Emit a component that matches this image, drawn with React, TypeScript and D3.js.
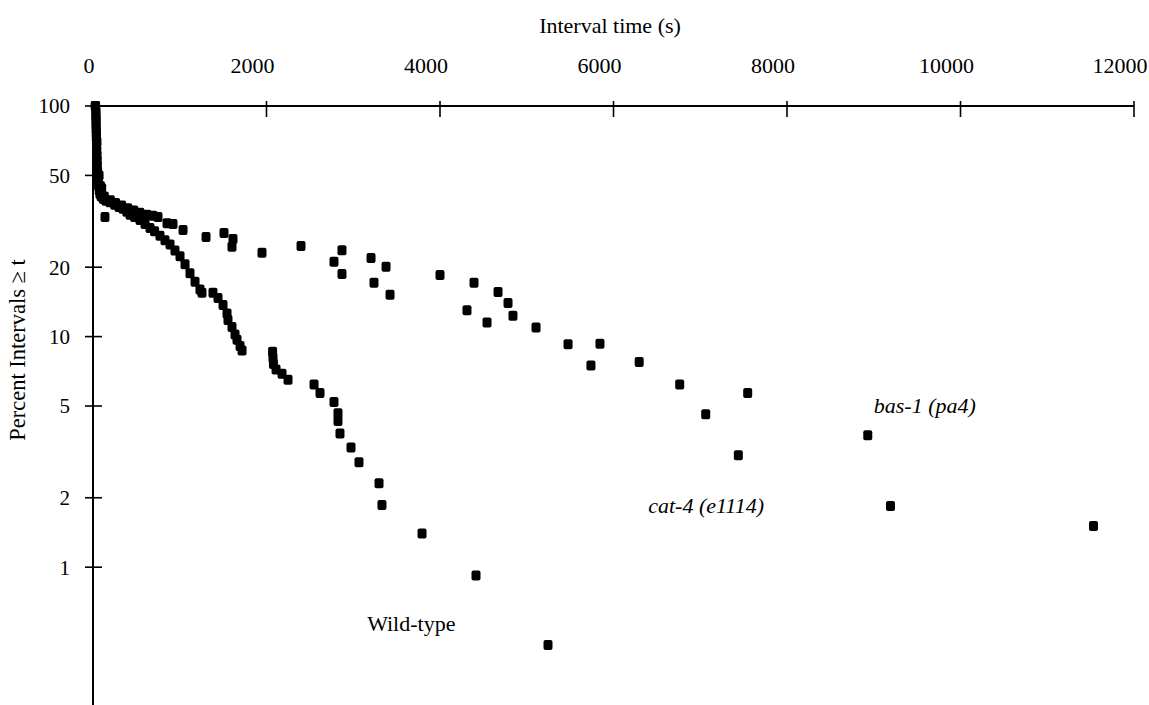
import React from "react";
import * as d3 from "d3";

// Survival curves of interval lengths: [interval time (s), percent of intervals >= t]
const wildType: [number, number][] = [
  [30, 100], [32, 97], [33, 94], [34, 91], [35, 88], [35, 85], [36, 82], [37, 79],
  [38, 76], [39, 73], [40, 70], [42, 67], [44, 64], [46, 61], [48, 58], [50, 55],
  [53, 52], [56, 49], [60, 47], [65, 45], [72, 43], [80, 41.5], [95, 40.5],
  [120, 39.5], [150, 38.8], [196, 38.2], [250, 37.3], [300, 36.5], [346, 35.8],
  [390, 34.8], [427, 33.8], [480, 33], [542, 32], [600, 30.8], [657, 29.6],
  [710, 28.6], [772, 27.4], [830, 26.2], [888, 25.1], [945, 23.6], [1003, 22.3],
  [1061, 20.6], [1118, 18.8], [1176, 17.3], [1233, 16], [1256, 15.5],
  [1383, 15.5], [1441, 14.7], [1499, 13.7], [1545, 12.6], [1556, 11.8],
  [1602, 11], [1637, 10.2], [1660, 9.7], [1695, 9.1], [1718, 8.7],
  [2070, 8.6], [2075, 8.1], [2080, 7.6], [2110, 7.2], [2179, 6.9], [2248, 6.5],
  [2548, 6.2], [2617, 5.7], [2778, 5.2], [2824, 4.65], [2824, 4.3], [2847, 3.8],
  [2974, 3.3], [3066, 2.85], [3297, 2.31], [3331, 1.86], [3793, 1.4],
  [4415, 0.92], [5245, 0.46],
];

const bas1: [number, number][] = [
  [25, 100], [40, 75], [70, 50], [100, 44], [130, 40.5], [200, 39], [260, 38],
  [330, 37], [400, 36], [470, 35.2], [540, 34.4], [620, 33.8], [690, 33.4],
  [749, 33], [922, 30.8], [1510, 28.1], [1614, 26.5], [2398, 24.7],
  [2870, 23.7], [3205, 21.9], [3378, 20.1], [4000, 18.5], [4392, 17.1],
  [4669, 15.6], [4784, 14], [4841, 12.3], [5107, 10.96], [5844, 9.3],
  [6296, 7.75], [6763, 6.2], [7063, 4.61], [7439, 3.06], [11533, 1.51],
];

const cat4: [number, number][] = [
  [28, 100], [45, 70], [85, 45], [138, 33], [853, 31], [1038, 29], [1303, 27],
  [1602, 24.5], [1948, 23.1], [2778, 21.1], [2870, 18.7], [3239, 17.1],
  [3424, 15.2], [4311, 13], [4542, 11.5], [5476, 9.27], [5740, 7.5],
  [7547, 5.7], [8931, 3.73], [9193, 1.84],
];

const xTicks = [0, 2000, 4000, 6000, 8000, 10000, 12000];
const yTicks = [100, 50, 20, 10, 5, 2, 1];

const seriesLabels = [
  { text: "bas-1 (pa4)", t: 9000, v: 4.65, italic: true },
  { text: "cat-4 (e1114)", t: 6400, v: 1.72, italic: true },
  { text: "Wild-type", t: 3160, v: 0.53, italic: false },
];

const W = 1149;
const H = 705;
const FONT = "'Liberation Serif', 'Times New Roman', serif";

export default function App() {
  const x = d3.scaleLinear().domain([0, 12000]).range([93, 1134]);
  const y = d3.scaleLog().domain([0.25, 100]).range([706, 106]);

  const allPoints = [...wildType, ...bas1, ...cat4];
  const mw = 9;
  const mh = 10;

  return (
    <svg
      width={W}
      height={H}
      style={{ position: "absolute", left: 0, top: 0, background: "#fff" }}
    >
      {/* top x axis */}
      <line x1={x(0)} x2={x(12000)} y1={y(100)} y2={y(100)} stroke="#000" strokeWidth={2} />
      {xTicks.map((t) => (
        <g key={"xt" + t}>
          <line x1={x(t)} x2={x(t)} y1={y(100) - 5} y2={y(100) + 11} stroke="#000" strokeWidth={1.6} />
          <text
            x={x(t) + (t === 0 ? -4 : -14)}
            y={73}
            textAnchor="middle"
            fontFamily={FONT}
            fontSize={22}
            fill="#000"
          >
            {t}
          </text>
        </g>
      ))}
      <text x={610} y={33} textAnchor="middle" fontFamily={FONT} fontSize={22} fill="#000">
        Interval time (s)
      </text>

      {/* left log axis */}
      <line x1={x(0)} x2={x(0)} y1={y(100)} y2={H} stroke="#000" strokeWidth={2} />
      {yTicks.map((v) => (
        <g key={"yt" + v}>
          <line x1={x(0) - 8} x2={x(0) + 9} y1={y(v)} y2={y(v)} stroke="#000" strokeWidth={1.6} />
          <text
            x={70}
            y={y(v)}
            dy="0.35em"
            textAnchor="end"
            fontFamily={FONT}
            fontSize={21}
            fill="#000"
          >
            {v}
          </text>
        </g>
      ))}
      <text
        transform={`translate(25,350) rotate(-90)`}
        textAnchor="middle"
        fontFamily={FONT}
        fontSize={22.5}
        fill="#000"
      >
        Percent Intervals ≥ t
      </text>

      {/* data markers */}
      {allPoints.map(([t, v], i) => (
        <rect
          key={"p" + i}
          x={x(t) - mw / 2}
          y={y(v) - mh / 2}
          width={mw}
          height={mh}
          rx={2}
          fill="#000"
        />
      ))}

      {/* series labels */}
      {seriesLabels.map((l) => (
        <text
          key={l.text}
          x={x(l.t)}
          y={y(l.v)}
          fontFamily={FONT}
          fontSize={22}
          fontStyle={l.italic ? "italic" : "normal"}
          fill="#000"
        >
          {l.text}
        </text>
      ))}
    </svg>
  );
}
